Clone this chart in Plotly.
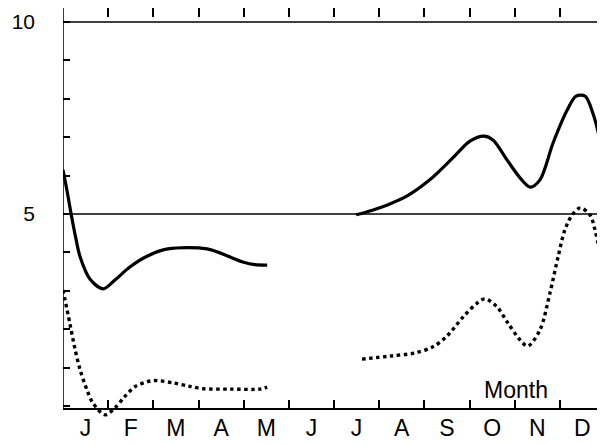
import plotly.graph_objects as go

# ---- data ----
months = ["J", "F", "M", "A", "M", "J", "J", "A", "S", "O", "N", "D"]
month_centers = [i + 0.5 for i in range(12)]
month_bounds = list(range(1, 12))
y_ticks = list(range(0, 11))
y_tick_text = ["", "", "", "", "", "5", "", "", "", "", "10"]
ref_lines = [5, 10]

solid_a_x = [0.00, 0.09, 0.18, 0.27, 0.38, 0.60, 0.89, 1.15, 1.48, 1.86, 2.32, 3.19, 3.98, 4.25, 4.52]
solid_a_y = [6.15, 5.60, 5.00, 4.45, 3.88, 3.30, 3.05, 3.28, 3.62, 3.90, 4.09, 4.09, 3.75, 3.68, 3.67]

solid_b_x = [6.49, 6.85, 7.17, 7.62, 8.12, 8.63, 9.01, 9.32, 9.52, 9.83, 10.12, 10.34, 10.56, 10.85, 11.16, 11.36, 11.56, 11.73, 11.89, 12.0]
solid_b_y = [4.98, 5.10, 5.23, 5.47, 5.89, 6.46, 6.90, 7.03, 6.93, 6.41, 5.94, 5.70, 5.89, 6.85, 7.70, 8.07, 8.07, 7.63, 6.90, 6.05]

dotted_a_x = [0.00, 0.15, 0.27, 0.38, 0.53, 0.66, 0.93, 1.15, 1.37, 1.59, 1.93, 2.10, 2.44, 2.77, 3.10, 3.70, 4.36, 4.52]
dotted_a_y = [3.02, 2.16, 1.46, 0.94, 0.42, 0.08, -0.23, -0.05, 0.25, 0.50, 0.65, 0.66, 0.60, 0.52, 0.45, 0.44, 0.44, 0.49]

dotted_b_x = [6.62, 7.24, 7.79, 8.19, 8.50, 8.86, 9.17, 9.34, 9.61, 9.85, 10.12, 10.29, 10.56, 10.78, 10.96, 11.11, 11.27, 11.45, 11.67, 11.78, 11.89, 12.0]
dotted_b_y = [1.22, 1.30, 1.38, 1.54, 1.82, 2.32, 2.68, 2.79, 2.58, 2.16, 1.72, 1.56, 1.98, 2.94, 3.88, 4.58, 4.97, 5.16, 4.97, 4.58, 3.98, 3.28]

FONT = "Liberation Sans, Arial, sans-serif"
Y_RANGE = [-0.365, 10.365]
X_RANGE = [0, 12]
AXIS_POS = 11 / 412  # paper position of the bottom axis line

fig = go.Figure()

solid_style = dict(color="black", width=3.2, shape="spline", smoothing=0.9)
dot_style = dict(color="black", width=3.4, dash="3.5px,3.5px", shape="spline", smoothing=0.9)

fig.add_trace(go.Scatter(x=solid_a_x, y=solid_a_y, mode="lines", line=solid_style,
                         xaxis="x", yaxis="y", showlegend=False, hoverinfo="skip"))
fig.add_trace(go.Scatter(x=solid_b_x, y=solid_b_y, mode="lines", line=solid_style,
                         xaxis="x", yaxis="y", showlegend=False, hoverinfo="skip"))
fig.add_trace(go.Scatter(x=dotted_a_x, y=dotted_a_y, mode="lines", line=dot_style,
                         xaxis="x2", yaxis="y", showlegend=False, hoverinfo="skip"))
fig.add_trace(go.Scatter(x=dotted_b_x, y=dotted_b_y, mode="lines", line=dot_style,
                         xaxis="x2", yaxis="y", showlegend=False, hoverinfo="skip"))

shapes = []
for v in ref_lines:
    shapes.append(dict(type="line", xref="paper", x0=0, x1=1, yref="y", y0=v, y1=v,
                       line=dict(color="black", width=1.5), layer="below"))
# left frame line, from the bottom axis up to the top frame
shapes.append(dict(type="line", xref="x", x0=0, x1=0, yref="paper", y0=AXIS_POS, y1=1,
                   line=dict(color="black", width=1.5)))

# the page places the figure 8px from the top-left corner, so the figure is 8px smaller
fig.update_layout(
    width=597, height=437,
    margin=dict(l=55, r=0, t=0, b=25),
    paper_bgcolor="white", plot_bgcolor="white",
    font=dict(family=FONT, color="black", size=20),
    shapes=shapes,
    xaxis=dict(
        range=X_RANGE, side="top", anchor="y", automargin=False,
        showline=True, linecolor="black", linewidth=1.5,
        ticks="inside", tickvals=month_bounds, ticklen=9, tickwidth=1.5, tickcolor="black",
        showticklabels=False, showgrid=False, zeroline=False, fixedrange=True,
    ),
    xaxis2=dict(
        range=X_RANGE, overlaying="x", anchor="free", position=AXIS_POS, side="bottom",
        automargin=False,
        showline=True, linecolor="black", linewidth=1.5,
        tickmode="array", tickvals=month_centers, ticktext=months, ticks="",
        ticklabelstandoff=-1,
        tickfont=dict(size=23, family=FONT, color="black"),
        minor=dict(tickmode="array", tickvals=month_bounds, ticks="inside", ticklen=8,
                   tickwidth=1.5, tickcolor="black", showgrid=False),
        showgrid=False, zeroline=False, fixedrange=True,
    ),
    yaxis=dict(
        range=Y_RANGE, anchor="x", automargin=False,
        showline=False, mirror=False,
        ticks="inside", tickvals=y_ticks, ticktext=y_tick_text, ticklen=7, tickwidth=1.5,
        tickcolor="black", ticklabelstandoff=27,
        tickfont=dict(size=21, family=FONT, color="black"),
        showgrid=False, zeroline=False, fixedrange=True,
    ),
    yaxis2=dict(range=Y_RANGE, overlaying="y", side="right", anchor="x", automargin=False,
                ticks="inside", tickvals=y_ticks, ticklen=7, tickwidth=1.5,
                tickcolor="black", showticklabels=False, showline=False,
                showgrid=False, zeroline=False, fixedrange=True),
    annotations=[dict(text="Month", x=10.03, y=0.42, xref="x", yref="y", showarrow=False,
                      font=dict(size=23, family=FONT, color="black"))],
)

# empty trace so the right-hand tick axis is drawn
fig.add_trace(go.Scatter(x=[], y=[], yaxis="y2", xaxis="x", showlegend=False, hoverinfo="skip"))

fig.write_html("out.html")
